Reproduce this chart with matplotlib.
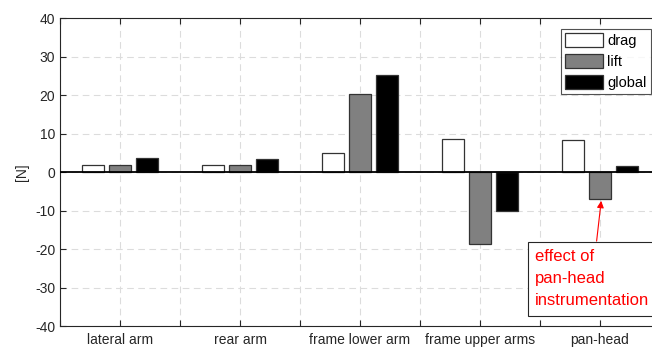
import matplotlib
matplotlib.use("Agg")
import matplotlib.pyplot as plt
import numpy as np

categories = ["lateral arm", "rear arm", "frame lower arm", "frame upper arms", "pan-head"]
drag = [1.9, 1.7, 4.9, 8.6, 8.3]
lift = [1.8, 1.9, 20.3, -18.7, -6.9]
global_ = [3.6, 3.4, 25.2, -10.1, 1.5]
series_names = ["drag", "lift", "global"]
yticks = [-40, -30, -20, -10, 0, 10, 20, 30, 40]

plt.rcParams['font.family'] = ['Liberation Sans', 'DejaVu Sans']

fig = plt.figure(figsize=(6.52, 3.47), dpi=100)
ax = fig.add_axes([60/652, 1-326/347, 600/652, 308/347])

x = np.arange(1, len(categories) + 1)
w = 0.18
off = 0.225
colors = ["white", "#808080", "black"]
for i, (vals, c, name) in enumerate(zip([drag, lift, global_], colors, series_names)):
    ax.bar(x + (i - 1) * off, vals, width=w, color=c, edgecolor="#333333",
           linewidth=0.9, label=name, zorder=3)

ax.axhline(0, color="black", linewidth=1.3, zorder=4)
ax.set_xlim(0.5, 5.5)
ax.set_ylim(-40, 40)
ax.set_yticks(yticks)
ax.set_yticklabels([str(v) for v in yticks])
ticks = np.arange(0.5, 5.6, 0.5)
ax.set_xticks(ticks)
ax.set_xticklabels([categories[int(round(t)) - 1] if abs(t - round(t)) < 1e-6 and 1 <= round(t) <= 5 else "" for t in ticks])
ax.tick_params(direction="in", length=4, colors="#262626", labelsize=10, top=True, width=0.8)
ax.tick_params(axis="x", pad=5)
ax.grid(True, linestyle=(0, (6, 4)), color="#dcdcdc", linewidth=0.8, zorder=0)
for s in ax.spines.values():
    s.set_color("#262626")
    s.set_linewidth(0.8)
ax.set_ylabel("[N]", fontsize=10, color="#262626", labelpad=4)

leg = ax.legend(loc="upper right", bbox_to_anchor=(591/600, 0.965), fontsize=10.5,
                frameon=True, fancybox=False, edgecolor="#262626", handlelength=2.6,
                handleheight=1.1, handletextpad=0.3, borderpad=0.3, labelspacing=0.4,
                borderaxespad=0)
leg.get_frame().set_linewidth(0.8)

ax.annotate("effect of\npan-head\ninstrumentation", xy=(5.01, -7.5), xytext=(4.46, -20.0),
            fontsize=12, color="red", ha="left", va="top", linespacing=1.6,
            bbox=dict(boxstyle="square,pad=0.45", fc="white", ec="#262626", lw=0.8),
            arrowprops=dict(arrowstyle="-|>", color="red", lw=0.8, shrinkA=0, shrinkB=0,
                            mutation_scale=10),
            zorder=6)

fig.savefig("out.png", dpi=100)
